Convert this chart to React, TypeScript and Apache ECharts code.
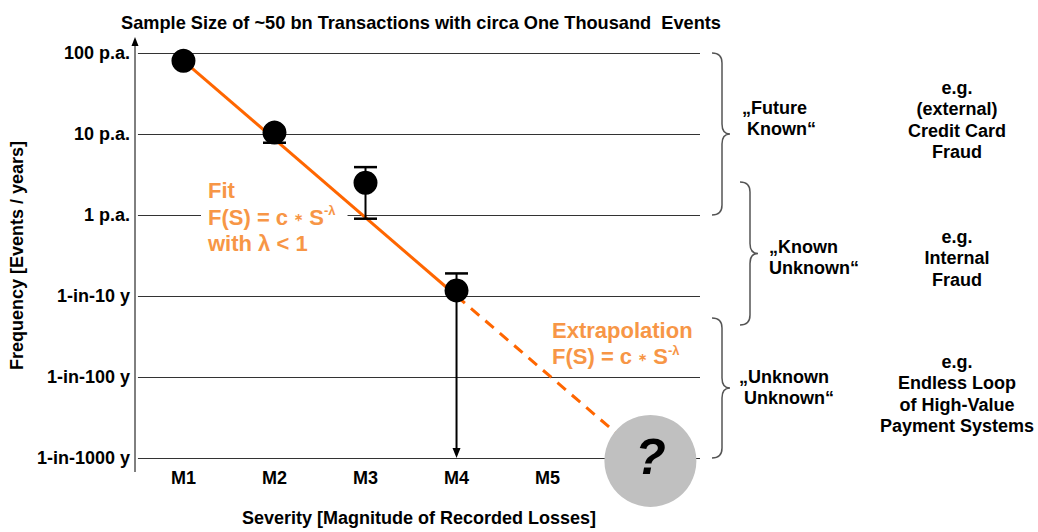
import React, { useEffect, useRef } from "react";
import * as echarts from "echarts";

// ---------- data ----------
const categories = ["M1", "M2", "M3", "M4", "M5"];
// y tick labels for exponents -3 .. 2
const yTickLabels = ["1-in-1000 y", "1-in-100 y", "1-in-10 y", "1 p.a.", "10 p.a.", "100 p.a."];
const observedX = [1, 2, 3, 4];
const observedFreq = [80, 10.4, 2.5, 0.117];
const errLow = [80, 7.8, 0.9, 0.001];
const errHigh = [80, 10.4, 3.9, 0.19];
const errLowArrow = [0, 0, 0, 1];
const fitX = [1, 4];
const fitFreq = [80, 0.1];
const extrapX = [4, 5.75];
const extrapFreq = [0.1, 0.00205];
const unknownX = [6.13];
const unknownFreq = [0.00092];

const FF = "'Liberation Sans', Arial, Helvetica, sans-serif";
const ORANGE_LINE = "#ff6600";
const ORANGE_TEXT = "#f79646";

const Brace = (echarts as any).graphic.extendShape({
  type: "brace",
  shape: { x: 0, y1: 0, y2: 0, w: 8, r: 10 },
  buildPath(ctx: any, s: any) {
    const { x, y1, y2, w, r } = s;
    const ym = (y1 + y2) / 2;
    ctx.moveTo(x - r, y1);
    ctx.quadraticCurveTo(x, y1, x, y1 + r);
    ctx.lineTo(x, ym - r);
    ctx.quadraticCurveTo(x, ym, x + w, ym);
    ctx.quadraticCurveTo(x, ym, x, ym + r);
    ctx.lineTo(x, y2 - r);
    ctx.quadraticCurveTo(x, y2, x - r, y2);
  },
});
(echarts as any).graphic.registerShape("brace", Brace);

export default function App() {
  const ref = useRef<HTMLDivElement>(null);
  useEffect(() => {
    if (!ref.current) return;
    const chart = echarts.init(ref.current, undefined, { renderer: "svg" });
    const gridLeft = 135;
    const gridTop = 53;
    const gridRightPx = 700;
    const gridBottomPx = 459;
    const xMin = 0.5;
    const xMax = 0.5 + (gridRightPx - gridLeft) / 91.5;

    const bold = (size: number, fill: string) => ({
      fontSize: size,
      fontWeight: "bold",
      fontFamily: FF,
      fill,
    });

    const braceStyle = { stroke: "#555", lineWidth: 1.5, fill: "none" };

    const option: any = {
      animation: false,
      backgroundColor: "#fff",
      grid: {
        left: gridLeft,
        top: gridTop,
        right: 1038 - gridRightPx,
        bottom: 532 - gridBottomPx,
      },
      xAxis: {
        type: "value",
        min: xMin,
        max: xMax,
        axisLine: { show: false },
        axisTick: { show: false },
        splitLine: { show: false },
        axisLabel: {
          customValues: categories.map((_, i) => i + 1),
          formatter: (v: number) => categories[Math.round(v) - 1] ?? "",
          fontSize: 18,
          fontWeight: "bold",
          fontFamily: FF,
          color: "#000",
          margin: 11,
        },
        name: "Severity [Magnitude of Recorded Losses]",
        nameLocation: "middle",
        nameGap: 51,
        nameTextStyle: { fontSize: 18, fontWeight: "bold", fontFamily: FF, color: "#000" },
      },
      yAxis: {
        type: "log",
        logBase: 10,
        min: 0.001,
        max: 100,
        axisLine: { show: false },
        axisTick: { show: false },
        splitLine: { show: true, lineStyle: { color: "#333", width: 1 } },
        axisLabel: {
          formatter: (v: number) => yTickLabels[Math.round(Math.log10(v)) + 3] ?? "",
          fontSize: 18,
          fontWeight: "bold",
          fontFamily: FF,
          color: "#000",
          margin: 8,
        },
        name: "Frequency [Events / years]",
        nameLocation: "middle",
        nameGap: 106,
        nameTextStyle: { fontSize: 18, fontWeight: "bold", fontFamily: FF, color: "#000" },
      },
      series: [
        {
          type: "line",
          data: fitX.map((x, i) => [x, fitFreq[i]]),
          symbol: "none",
          lineStyle: { color: ORANGE_LINE, width: 3 },
          z: 2,
          silent: true,
        },
        {
          type: "line",
          data: extrapX.map((x, i) => [x, extrapFreq[i]]),
          symbol: "none",
          lineStyle: { color: ORANGE_LINE, width: 3, type: [11, 8] },
          z: 2,
          silent: true,
        },
        {
          type: "custom",
          z: 3,
          silent: true,
          encode: { x: 0, y: 1 },
          data: observedX.map((x, i) => [x, observedFreq[i], errLow[i], errHigh[i], errLowArrow[i]]),
          renderItem: (params: any, api: any) => {
            const x = api.value(0);
            const v = api.value(1);
            const lo = api.value(2);
            const hi = api.value(3);
            const arrow = api.value(4);
            const pHi = api.coord([x, hi]);
            const pLo = api.coord([x, lo]);
            const children: any[] = [];
            if (pLo[1] - pHi[1] < 1) return { type: "group", children };
            const half = 11.5;
            const st = { stroke: "#000", lineWidth: 2 };
            children.push({
              type: "line",
              shape: { x1: pHi[0], y1: pHi[1], x2: pLo[0], y2: arrow ? pLo[1] - 8 : pLo[1] },
              style: st,
            });
            if (hi > v) {
              children.push({
                type: "line",
                shape: { x1: pHi[0] - half, y1: pHi[1], x2: pHi[0] + half, y2: pHi[1] },
                style: { stroke: "#000", lineWidth: 2.5 },
              });
            }
            if (arrow) {
              children.push({
                type: "polygon",
                shape: {
                  points: [
                    [pLo[0] - 4, pLo[1] - 10],
                    [pLo[0] + 4, pLo[1] - 10],
                    [pLo[0], pLo[1]],
                  ],
                },
                style: { fill: "#000" },
              });
            } else {
              children.push({
                type: "line",
                shape: { x1: pLo[0] - half, y1: pLo[1], x2: pLo[0] + half, y2: pLo[1] },
                style: { stroke: "#000", lineWidth: 2.5 },
              });
            }
            return { type: "group", children };
          },
        },
        {
          type: "scatter",
          data: observedX.map((x, i) => [x, observedFreq[i]]),
          symbol: "circle",
          symbolSize: 24,
          itemStyle: { color: "#000", opacity: 1 },
          z: 4,
          silent: true,
        },
        {
          type: "scatter",
          data: unknownX.map((x, i) => [x, unknownFreq[i]]),
          symbol: "circle",
          symbolSize: 92,
          clip: false,
          itemStyle: { color: "#c0c0c0", opacity: 1 },
          label: {
            show: true,
            position: "inside",
            formatter: "?",
            fontSize: 50,
            fontWeight: "bold",
            fontStyle: "italic",
            fontFamily: FF,
            color: "#000",
            offset: [0, -4],
          },
          z: 5,
          silent: true,
        },
      ],
      graphic: [
        // title
        {
          type: "text",
          z: 10,
          style: {
            x: 421,
            y: 23,
            text: "Sample Size of ~50 bn Transactions with circa One Thousand  Events",
            align: "center",
            verticalAlign: "middle",
            ...bold(18.2, "#000"),
          },
        },
        // y axis line with arrow
        {
          type: "line",
          z: 10,
          shape: { x1: gridLeft, y1: 41, x2: gridLeft, y2: 472 },
          style: { stroke: "#000", lineWidth: 1 },
        },
        {
          type: "polygon",
          z: 10,
          shape: { points: [[gridLeft - 3.5, 46], [gridLeft + 3.5, 46], [gridLeft, 37]] },
          style: { fill: "#000" },
        },
        // Fit annotation
        {
          type: "text",
          z: 1,
          style: {
            x: 201,
            y: 177.5,
            text: "{t|Fit}\n{t|F(S) = c }{s|∗}{t| S}{p|-λ}\n{t|with λ < 1}",
            backgroundColor: "#fff",
            padding: [0, 12, 0, 7],
            fill: ORANGE_TEXT,
            ...bold(22, ORANGE_TEXT),
            rich: {
              t: { ...bold(22, ORANGE_TEXT), lineHeight: 26.5 },
              s: { ...bold(11, ORANGE_TEXT), lineHeight: 26.5 },
              p: { ...bold(13, ORANGE_TEXT), lineHeight: 13, verticalAlign: "top" },
            },
          },
        },
        // Extrapolation annotation
        {
          type: "text",
          z: 10,
          style: {
            x: 552,
            y: 317.5,
            text: "{t|Extrapolation}\n{t|F(S) = c }{s|∗}{t| S}{p|-λ}",
            fill: ORANGE_TEXT,
            ...bold(22, ORANGE_TEXT),
            rich: {
              t: { ...bold(22, ORANGE_TEXT), lineHeight: 26 },
              s: { ...bold(11, ORANGE_TEXT), lineHeight: 26 },
              p: { ...bold(13, ORANGE_TEXT), lineHeight: 13, verticalAlign: "top" },
            },
          },
        },
        // braces
        { type: "brace", z: 10, shape: { x: 722, y1: 53, y2: 215, w: 8, r: 10 }, style: braceStyle },
        { type: "brace", z: 10, shape: { x: 750, y1: 182, y2: 325, w: 8, r: 10 }, style: braceStyle },
        { type: "brace", z: 10, shape: { x: 722, y1: 318, y2: 458, w: 8, r: 10 }, style: braceStyle },
        // brace labels
        {
          type: "text",
          z: 10,
          style: { x: 742, y: 97.5, text: "„Future\n Known“", lineHeight: 21, ...bold(18, "#000") },
        },
        {
          type: "text",
          z: 10,
          style: { x: 769, y: 236.5, text: "„Known\nUnknown“", lineHeight: 21, ...bold(18, "#000") },
        },
        {
          type: "text",
          z: 10,
          style: { x: 739, y: 366.5, text: "„Unknown\n Unknown“", lineHeight: 21, ...bold(18, "#000") },
        },
        // examples
        {
          type: "text",
          z: 10,
          style: {
            x: 957,
            y: 77,
            align: "center",
            text: "e.g.\n(external)\nCredit Card\nFraud",
            lineHeight: 21.5,
            ...bold(18, "#000"),
          },
        },
        {
          type: "text",
          z: 10,
          style: {
            x: 957,
            y: 226,
            align: "center",
            text: "e.g.\nInternal\nFraud",
            lineHeight: 21.5,
            ...bold(18, "#000"),
          },
        },
        {
          type: "text",
          z: 10,
          style: {
            x: 957,
            y: 351,
            align: "center",
            text: "e.g.\nEndless Loop\nof High-Value\nPayment Systems",
            lineHeight: 21.5,
            ...bold(18, "#000"),
          },
        },
      ],
    };
    chart.setOption(option);
    return () => chart.dispose();
  }, []);
  return (
    <div
      ref={ref}
      style={{ position: "fixed", left: 0, top: 0, width: 1038, height: 532, background: "#fff" }}
    />
  );
}
